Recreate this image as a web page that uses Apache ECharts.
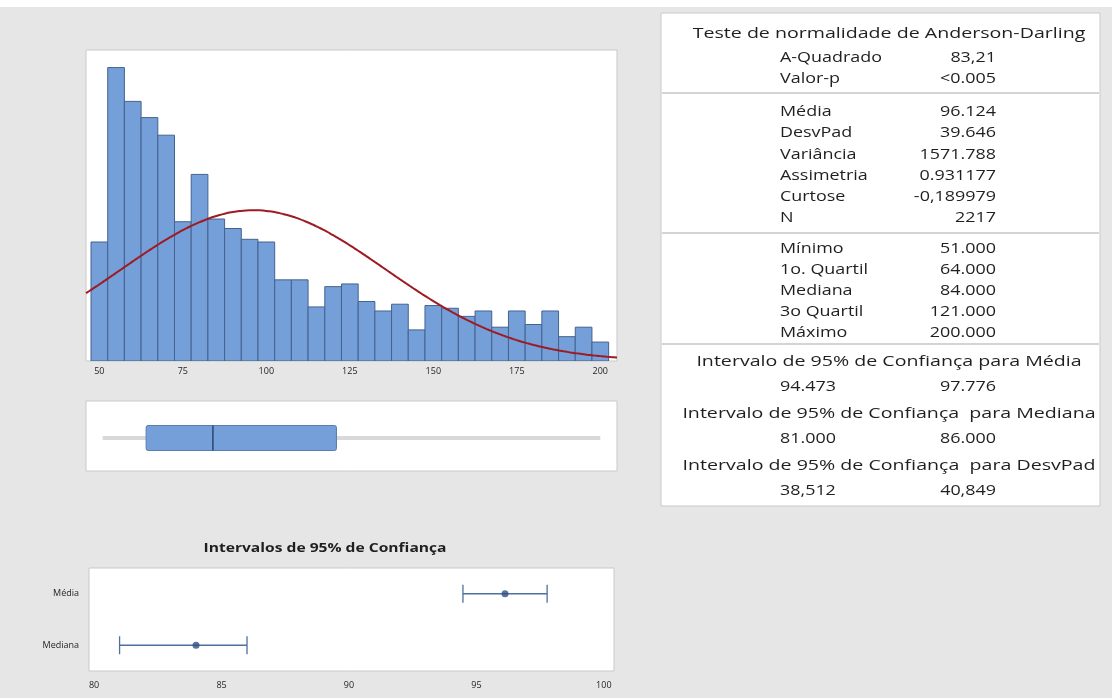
<!DOCTYPE html>
<html>
<head>
<meta charset="utf-8">
<script src="https://cdn.jsdelivr.net/npm/echarts@6/dist/echarts.min.js"></script>
<style>
  html, body { margin: 0; padding: 0; background: #e6e6e6; }
  #chart { width: 1112px; height: 698px; }
</style>
</head>
<body>
<div id="chart"></div>
<script>
// ---- Data ----
const binCenters = [50, 55, 60, 65, 70, 75, 80, 85, 90, 95, 100, 105, 110, 115, 120, 125,
  130, 135, 140, 145, 150, 155, 160, 165, 170, 175, 180, 185, 190, 195, 200];
const binCounts = [88, 217, 192, 180, 167, 103, 138, 105, 98, 90, 88, 60, 60, 40, 55, 57,
  44, 37, 42, 23, 41, 39, 33, 37, 25, 37, 27, 37, 18, 25, 14];
const binWidth = 5;
const histTicks = [50, 75, 100, 125, 150, 175, 200];

const sampleN = 2217;
const sampleMean = 96.124;
const sampleSd = 39.646;

// five-number summary: min, Q1, median, Q3, max
const fiveNumber = [51, 64, 84, 121, 200];

const ciCategories = ['Mediana', 'Média'];
const ciLow = [81.0, 94.473];
const ciHigh = [86.0, 97.776];
const ciCenter = [84.0, 96.124];
const ciTicks = [80, 85, 90, 95, 100];

const tableTitle = 'Teste de normalidade de Anderson-Darling';
const adLabels = ['A-Quadrado', 'Valor-p'];
const adValues = ['83,21', '<0.005'];
const momentLabels = ['Média', 'DesvPad', 'Variância', 'Assimetria', 'Curtose', 'N'];
const momentValues = ['96.124', '39.646', '1571.788', '0.931177', '-0,189979', '2217'];
const quantLabels = ['Mínimo', '1o. Quartil', 'Mediana', '3o Quartil', 'Máximo'];
const quantValues = ['51.000', '64.000', '84.000', '121.000', '200.000'];
const intervalTitles = [
  'Intervalo de 95% de Confiança para Média',
  'Intervalo de 95% de Confiança  para Mediana',
  'Intervalo de 95% de Confiança  para DesvPad'
];
const intervalLows = ['94.473', '81.000', '38,512'];
const intervalHighs = ['97.776', '86.000', '40,849'];

const ciTitle = 'Intervalos de 95% de Confiança';

// fitted normal density, scaled to counts per bin
const xMin = 46, xMax = 205;
const normalCurve = [];
for (let x = xMin; x <= xMax; x += 1) {
  const z = (x - sampleMean) / sampleSd;
  normalCurve.push([x, sampleN * binWidth * Math.exp(-0.5 * z * z) / (sampleSd * Math.sqrt(2 * Math.PI))]);
}

// ---- Styling ----
const FONT = '"Open Sans", "Noto Sans", sans-serif';
const TXT = '#1f1f1f';
const BAR_FILL = '#749fd8';
const BAR_EDGE = '#45628e';
const PANEL_BORDER = '#c9c9c9';

const chart = echarts.init(document.getElementById('chart'), null, { renderer: 'canvas' });

// statistics table as graphic text
const tableG = [];
const TX = 661, TY = 13, TW = 439, TH = 493;
tableG.push({ type: 'rect', shape: { x: TX, y: TY, width: TW, height: TH },
  style: { fill: '#fff', stroke: PANEL_BORDER, lineWidth: 1 }, z: 1 });
[93, 233, 344].forEach(y => tableG.push({ type: 'line',
  shape: { x1: TX + 1, y1: y, x2: TX + TW - 1, y2: y },
  style: { stroke: '#d4d4d4', lineWidth: 2 }, z: 2 }));

function txt(text, x, y, align, size, sx, weight) {
  return { type: 'text', x: x, y: y, scaleX: sx, z: 3,
    style: { text: text, fill: TXT, textAlign: align, textVerticalAlign: 'middle',
      font: (weight || 'normal') + ' ' + size + 'px ' + FONT } };
}
const LX = 780, RX = 996, FS = 14, SX = 1.28, TFS = 14, TSX = 1.4;
tableG.push(txt(tableTitle, 889, 34, 'center', TFS, TSX));
adLabels.forEach((l, i) => {
  tableG.push(txt(l, LX, 58 + i * 21.5, 'left', FS, SX));
  tableG.push(txt(adValues[i], RX, 58 + i * 21.5, 'right', FS, SX));
});
momentLabels.forEach((l, i) => {
  tableG.push(txt(l, LX, 112 + i * 21.3, 'left', FS, SX));
  tableG.push(txt(momentValues[i], RX, 112 + i * 21.3, 'right', FS, SX));
});
quantLabels.forEach((l, i) => {
  tableG.push(txt(l, LX, 249 + i * 21, 'left', FS, SX));
  tableG.push(txt(quantValues[i], RX, 249 + i * 21, 'right', FS, SX));
});
intervalTitles.forEach((t, i) => {
  const y = 362 + i * 52;
  tableG.push(txt(t, 889, y, 'center', TFS, TSX));
  tableG.push(txt(intervalLows[i], LX, y + 25, 'left', FS, SX));
  tableG.push(txt(intervalHighs[i], RX, y + 25, 'right', FS, SX));
});

const graphic = [
  { type: 'rect', shape: { x: 0, y: 0, width: 1112, height: 7 }, style: { fill: '#fff' }, z: 0 },
  txt(ciTitle, 325, 548, 'center', 13, 1.2, 'bold'),
  ...tableG
];

// histogram bars
function renderBar(params, api) {
  const c = api.value(0), n = api.value(1);
  const p0 = api.coord([c - binWidth / 2, n]);
  const p1 = api.coord([c + binWidth / 2, 0]);
  return { type: 'rect', shape: { x: p0[0], y: p0[1], width: p1[0] - p0[0], height: p1[1] - p0[1] },
    style: { fill: BAR_FILL, stroke: BAR_EDGE, lineWidth: 1 } };
}

// box plot drawn from the five-number summary
function renderBox(params, api) {
  const vals = [0, 1, 2, 3, 4].map(i => api.value(i));
  const yc = api.coord([vals[0], 0])[1] + 2;
  const half = 12.5;
  const px = vals.map(v => api.coord([v, 0])[0]);
  return { type: 'group', children: [
    { type: 'line', shape: { x1: px[0], y1: yc, x2: px[1], y2: yc }, style: { stroke: '#d9d9d9', lineWidth: 4 } },
    { type: 'line', shape: { x1: px[3], y1: yc, x2: px[4], y2: yc }, style: { stroke: '#d9d9d9', lineWidth: 4 } },
    { type: 'rect', shape: { x: px[1], y: yc - half, width: px[3] - px[1], height: 2 * half, r: 2 },
      style: { fill: BAR_FILL, stroke: '#5a7db0', lineWidth: 1 } },
    { type: 'line', shape: { x1: px[2], y1: yc - half, x2: px[2], y2: yc + half }, style: { stroke: '#2b4570', lineWidth: 1.5 } }
  ] };
}

// confidence interval error bars
function renderCI(params, api) {
  const lo = api.coord([api.value(0), api.value(2)]);
  const hi = api.coord([api.value(1), api.value(2)]);
  const h = 9;
  const st = { stroke: '#4f6f9f', lineWidth: 1.3 };
  return { type: 'group', children: [
    { type: 'line', shape: { x1: lo[0], y1: lo[1], x2: hi[0], y2: hi[1] }, style: st },
    { type: 'line', shape: { x1: lo[0], y1: lo[1] - h, x2: lo[0], y2: lo[1] + h }, style: st },
    { type: 'line', shape: { x1: hi[0], y1: hi[1] - h, x2: hi[0], y2: hi[1] + h }, style: st }
  ] };
}

const option = {
  backgroundColor: '#e6e6e6',
  animation: false,
  graphic: graphic,
  grid: [
    { left: 86, top: 50, width: 531, height: 311, show: true, backgroundColor: '#fff', borderColor: PANEL_BORDER, borderWidth: 1 },
    { left: 86, top: 401, width: 531, height: 70, show: true, backgroundColor: '#fff', borderColor: PANEL_BORDER, borderWidth: 1 },
    { left: 89, top: 568, width: 525, height: 103, show: true, backgroundColor: '#fff', borderColor: PANEL_BORDER, borderWidth: 1 }
  ],
  xAxis: [
    { gridIndex: 0, type: 'value', min: xMin, max: xMax,
      axisLine: { show: false }, axisTick: { show: false }, splitLine: { show: false },
      axisLabel: { customValues: histTicks, fontSize: 9, color: TXT, margin: 6, fontFamily: FONT } },
    { gridIndex: 1, type: 'value', min: xMin, max: xMax, show: false, splitLine: { show: false } },
    { gridIndex: 2, type: 'value', min: 79.8, max: 100.4,
      axisLine: { show: false }, axisTick: { show: false }, splitLine: { show: false },
      axisLabel: { customValues: ciTicks, fontSize: 9, color: TXT, margin: 10, fontFamily: FONT } }
  ],
  yAxis: [
    { gridIndex: 0, type: 'value', min: 0, max: 230, show: false, splitLine: { show: false } },
    { gridIndex: 1, type: 'category', data: [''], show: false },
    { gridIndex: 2, type: 'category', data: ciCategories,
      axisLine: { show: false }, axisTick: { show: false }, splitLine: { show: false },
      axisLabel: { fontSize: 9, color: TXT, margin: 10, fontFamily: FONT } }
  ],
  series: [
    { type: 'custom', xAxisIndex: 0, yAxisIndex: 0, renderItem: renderBar,
      data: binCenters.map((c, i) => [c, binCounts[i]]), clip: true },
    { type: 'line', xAxisIndex: 0, yAxisIndex: 0, data: normalCurve, showSymbol: false,
      smooth: true, lineStyle: { color: '#9e1b23', width: 2 }, z: 5 },
    { type: 'custom', xAxisIndex: 1, yAxisIndex: 1, renderItem: renderBox, data: [fiveNumber] },
    { type: 'custom', xAxisIndex: 2, yAxisIndex: 2, renderItem: renderCI,
      data: ciCategories.map((c, i) => [ciLow[i], ciHigh[i], i]) },
    { type: 'scatter', xAxisIndex: 2, yAxisIndex: 2, symbolSize: 7,
      itemStyle: { color: '#2d4f82' }, z: 5,
      data: ciCategories.map((c, i) => [ciCenter[i], i]) }
  ]
};
chart.setOption(option);
</script>
</body>
</html>
